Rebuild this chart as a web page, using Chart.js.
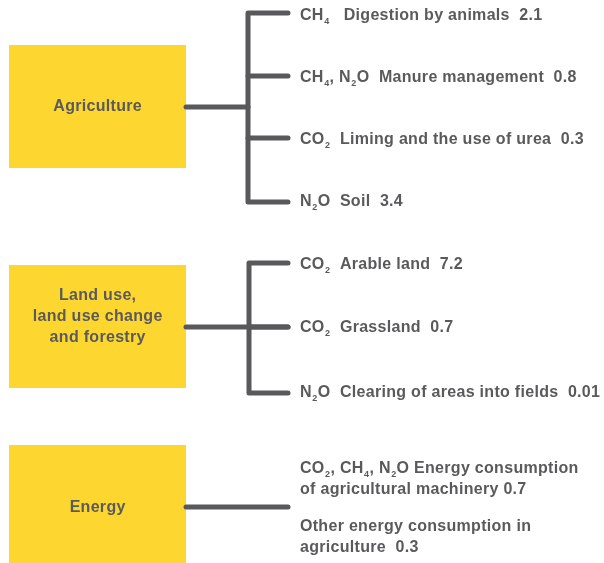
<!DOCTYPE html>
<html>
<head>
<meta charset="utf-8">
<script src="https://cdn.jsdelivr.net/npm/chart.js@4"></script>
<style>
html,body{margin:0;padding:0;background:#fff;}
#wrap{width:604px;height:563px;}
</style>
</head>
<body>
<div id="wrap"><canvas id="c" width="604" height="563"></canvas></div>
<script>
// ---- data ----
const categories = ['Agriculture', 'Land use,\nland use change\nand forestry', 'Energy'];
const agriGases = ['CH_4 ', 'CH_4, N_2O', 'CO_2', 'N_2O'];
const agriSources = ['Digestion by animals', 'Manure management', 'Liming and the use of urea', 'Soil'];
const agriValues = [2.1, 0.8, 0.3, 3.4];
const landGases = ['CO_2', 'CO_2', 'N_2O'];
const landSources = ['Arable land', 'Grassland', 'Clearing of areas into fields'];
const landValues = [7.2, 0.7, 0.01];
const energyGases = ['CO_2, CH_4, N_2O', ''];
const energySources = ['Energy consumption\nof agricultural machinery', 'Other energy consumption in\nagriculture '];
const energyValues = [0.7, 0.3];

// ---- layout (scale units) ----
const layout = [
  { box:[9,45,186,168], labelY:107, connY:107, connEnd:248, spineX:248, branchYs:[13,76,138,202], branchEnd:288, textX:300, textYs:[16,78,140,202], lineH:21 },
  { box:[9,265,186,388], labelY:317, connY:327, connEnd:288, spineX:249, branchYs:[263,327,393], branchEnd:288, textX:300, textYs:[265,328,393], lineH:21 },
  { box:[9,445,186,570], labelY:508, connY:507, connEnd:288, spineX:null, branchYs:[], branchEnd:null, textX:300, textYs:[469,527], lineH:21 }
];
const groups = [
  { gases: agriGases, sources: agriSources, values: agriValues, sep:'  ' },
  { gases: landGases, sources: landSources, values: landValues, sep:'  ' },
  { gases: energyGases, sources: energySources, values: energyValues, sep:' ' }
];

const LINE = '#59595b', TEXT = '#5a5a5c', BOX = '#fdd72f';
const FONT = 'bold 16px "Liberation Sans", Arial, sans-serif', SUB = 'bold 9px "Liberation Sans", Arial, sans-serif';
const SPACING = '0.3px';

// build line datasets from layout
const datasets = [];
function seg(points){
  datasets.push({ type:'line', data:points, borderColor:LINE, borderWidth:5, pointRadius:0,
    borderCapStyle:'round', borderJoinStyle:'round', fill:false, tension:0, clip:false });
}
layout.forEach(L => {
  seg([{x:L.box[2], y:L.connY}, {x:L.connEnd, y:L.connY}]);
  if (L.spineX !== null) {
    const ys = L.branchYs;
    seg([{x:L.branchEnd, y:ys[0]}, {x:L.spineX, y:ys[0]}, {x:L.spineX, y:ys[ys.length-1]}, {x:L.branchEnd, y:ys[ys.length-1]}]);
    for (let i=1;i<ys.length-1;i++) seg([{x:L.spineX, y:ys[i]}, {x:L.branchEnd, y:ys[i]}]);
  }
});

function drawRich(ctx, str, x, y){
  let cx = x, buf = '';
  const flush = () => { if(buf){ ctx.font = FONT; ctx.fillText(buf, cx, y); cx += ctx.measureText(buf).width; buf=''; } };
  for (let i=0;i<str.length;i++){
    const ch = str[i];
    if (ch === '_' && i+1 < str.length){
      flush();
      ctx.font = SUB; ctx.fillText(str[i+1], cx + 0.5, y+6); cx += ctx.measureText(str[i+1]).width + 0.5; i++;
    } else buf += ch;
  }
  flush();
  return cx;
}

const diagram = {
  id:'diagram',
  beforeDatasetsDraw(chart){
    const {ctx, scales:{x, y}} = chart;
    ctx.save();
    layout.forEach(L => {
      const x0 = x.getPixelForValue(L.box[0]), y0 = y.getPixelForValue(L.box[1]);
      const x1 = x.getPixelForValue(L.box[2]), y1 = y.getPixelForValue(L.box[3]);
      ctx.fillStyle = BOX;
      ctx.fillRect(x0, y0, x1-x0, y1-y0);
    });
    ctx.restore();
  },
  afterDatasetsDraw(chart){
    const {ctx, scales:{x, y}} = chart;
    ctx.save();
    ctx.fillStyle = TEXT;
    ctx.textBaseline = 'middle';
    ctx.textAlign = 'left';
    ctx.letterSpacing = SPACING;
    layout.forEach((L, gi) => {
      const lines = categories[gi].split('\n');
      const cxp = x.getPixelForValue((L.box[0]+L.box[2])/2);
      ctx.font = FONT;
      lines.forEach((ln, k) => {
        const w = ctx.measureText(ln).width - 0.3;
        ctx.fillText(ln, cxp - w/2, y.getPixelForValue(L.labelY + (k - (lines.length-1)/2) * L.lineH));
      });
      const G = groups[gi];
      G.sources.forEach((src, i) => {
        const full = (G.gases[i] ? G.gases[i] + (gi===2 ? ' ' : '  ') : '') + src + G.sep + String(G.values[i]);
        full.split('\n').forEach((p, k) => {
          drawRich(ctx, p, x.getPixelForValue(L.textX), y.getPixelForValue(L.textYs[i] + k*L.lineH));
        });
      });
    });
    ctx.restore();
  }
};

new Chart(document.getElementById('c'), {
  type:'line',
  data:{ datasets },
  options:{
    responsive:false, animation:false, devicePixelRatio:1,
    layout:{ padding:0 },
    plugins:{ legend:{display:false}, tooltip:{enabled:false} },
    scales:{
      x:{ type:'linear', min:0, max:604, display:false },
      y:{ type:'linear', min:0, max:563, reverse:true, display:false }
    }
  },
  plugins:[diagram]
});
</script>
</body>
</html>
